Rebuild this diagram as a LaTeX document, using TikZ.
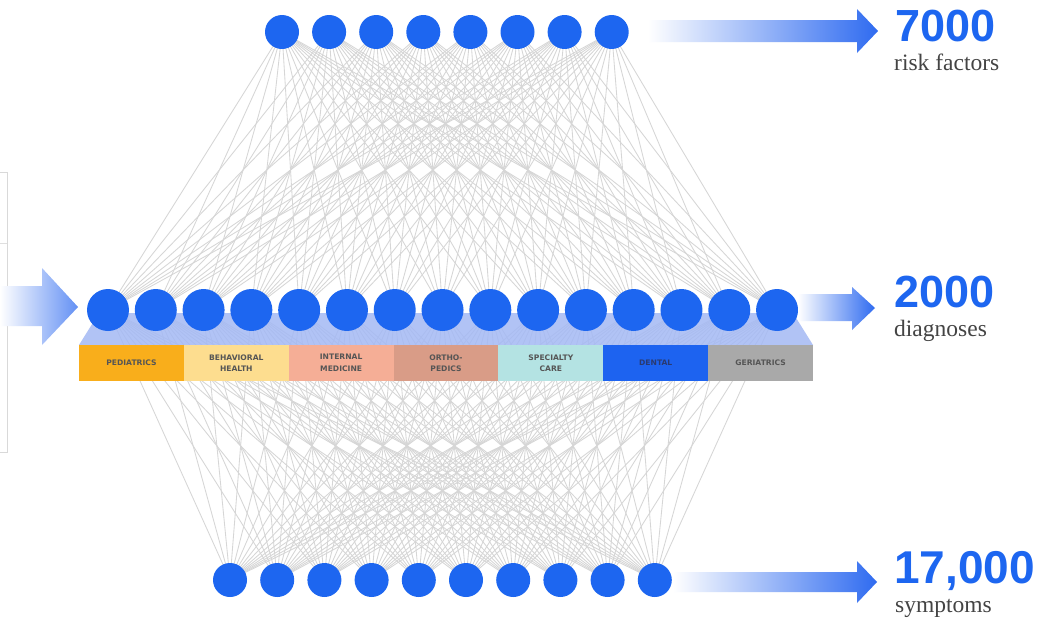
\documentclass[tikz,border=0pt]{standalone}
\usepackage{fontspec}
\setmainfont{Liberation Serif}
\newfontfamily\numfont{Liberation Sans}
\newfontfamily\catfont{DejaVu Sans}
\usetikzlibrary{calc}
\definecolor{nodeblue}{HTML}{1D66F0}
\definecolor{arrowblue}{HTML}{2F6BF0}
\definecolor{linkgray}{HTML}{D6D6D6}
\definecolor{bandblue}{HTML}{A4B9F4}
\definecolor{cPed}{HTML}{F9AE1B}
\definecolor{cBeh}{HTML}{FDDD8F}
\definecolor{cInt}{HTML}{F5AE96}
\definecolor{cOrt}{HTML}{D99C87}
\definecolor{cSpe}{HTML}{B4E3E3}
\definecolor{cDen}{HTML}{1D63F0}
\definecolor{cGer}{HTML}{A9A9A9}
\definecolor{labgray}{HTML}{444444}
\definecolor{cattext}{HTML}{555555}
\definecolor{dentext}{HTML}{2A3A70}
\tikzset{
  neuron/.style={circle, fill=nodeblue, inner sep=0pt, minimum size=#1},
  link/.style={draw=linkgray, line width=0.85pt},
  catbox/.style={rectangle, minimum width=104.86pt, minimum height=36pt, inner sep=0pt,
     font=\catfont\bfseries\fontsize{7.6}{11.5}\selectfont, text=cattext, align=center},
  bignum/.style={anchor=base west, inner sep=0pt, font=\numfont\bfseries\fontsize{45}{45}\selectfont, text=nodeblue},
  caption/.style={anchor=base west, inner sep=0pt, font=\fontsize{23.5}{24}\selectfont, text=labgray},
}
\begin{document}
\begin{tikzpicture}[x=1pt,y=-1pt]
\useasboundingbox (0,0) rectangle (1050,619);
\fill[white] (0,0) rectangle (1050,619);
% faint frame at left
\draw[gray!30, line width=1pt] (0,172) -- (7,172) -- (7,452) -- (0,452);
\draw[gray!25, line width=0.8pt] (0,243) -- (7,243);
% node coordinates
\foreach \i in {0,...,7} { \coordinate (t\i) at ({282+47.1*\i},32); }
\foreach \i in {0,...,14} { \coordinate (m\i) at ({108+47.79*\i},310); }
\foreach \i in {0,...,9} { \coordinate (b\i) at ({230+47.2*\i},580); }
% links
\foreach \i in {0,...,7} { \foreach \j in {0,...,14} { \draw[link] (t\i) -- (m\j); } }
\foreach \j in {0,...,14} { \foreach \k in {0,...,9} { \draw[link] (m\j) -- (b\k); } }
% band
\fill[bandblue, opacity=0.85] (79,345) -- (813,345) -- (793,313) -- (99,313) -- cycle;
% category bar
\node[catbox, fill=cPed] (c1) at ({79+104.86*0.5},363) {PEDIATRICS};
\node[catbox, fill=cBeh] (c2) at ({79+104.86*1.5},363) {BEHAVIORAL\\HEALTH};
\node[catbox, fill=cInt] (c3) at ({79+104.86*2.5},363) {INTERNAL\\MEDICINE};
\node[catbox, fill=cOrt] (c4) at ({79+104.86*3.5},363) {ORTHO-\\PEDICS};
\node[catbox, fill=cSpe] (c5) at ({79+104.86*4.5},363) {SPECIALTY\\CARE};
\node[catbox, fill=cDen, text=dentext] (c6) at ({79+104.86*5.5},363) {DENTAL};
\node[catbox, fill=cGer] (c7) at ({79+104.86*6.5},363) {GERIATRICS};
% neurons
\foreach \i in {0,...,7} { \node[neuron=34pt] (T\i) at (t\i) {}; }
\foreach \i in {0,...,14} { \node[neuron=42pt] (M\i) at (m\i) {}; }
\foreach \i in {0,...,9} { \node[neuron=34pt] (B\i) at (b\i) {}; }
% arrows
\shade[left color=white, right color=arrowblue!75!white]
  (0,286) -- (42,286) -- (42,268) -- (78,307) -- (42,345) -- (42,326) -- (0,326) -- cycle;
\shade[left color=white, right color=arrowblue]
  (648,20) -- (857,20) -- (857,9) -- (878,31) -- (857,53) -- (857,42) -- (648,42) -- cycle;
\shade[left color=white, right color=arrowblue]
  (798,294) -- (852,294) -- (852,287) -- (875,308) -- (852,330) -- (852,321) -- (798,321) -- cycle;
\shade[left color=white, right color=arrowblue]
  (673,572) -- (857,572) -- (857,561) -- (877,582) -- (857,603) -- (857,592) -- (673,592) -- cycle;
% labels
\node[bignum] (n1) at (895,41) {7000};
\node[caption] (l1) at (894,70) {risk factors};
\node[bignum] (n2) at (894,307) {2000};
\node[caption] (l2) at (894,336) {diagnoses};
\node[bignum, font=\numfont\bfseries\fontsize{46}{46}\selectfont] (n3) at (894,583) {17,000};
\node[caption] (l3) at (895,612) {symptoms};
\end{tikzpicture}
\end{document}
